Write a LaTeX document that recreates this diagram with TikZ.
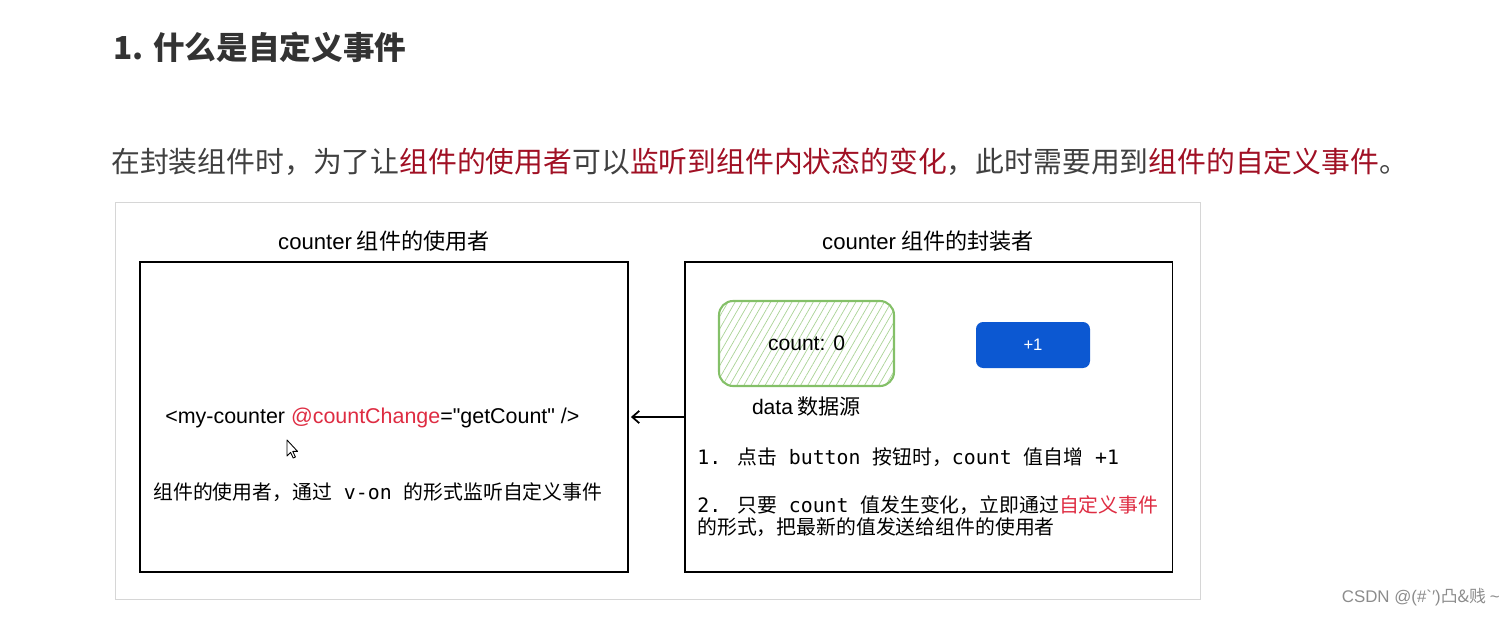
\documentclass[tikz,border=0pt]{standalone}
\usepackage{fontspec}
\setmainfont{Noto Sans CJK SC}
\newfontfamily\lat{Liberation Sans}
\newfontfamily\mono{DejaVu Sans Mono}
\usepackage{xcolor}
\definecolor{TitleGray}{RGB}{51,51,51}
\definecolor{TextGray}{RGB}{64,64,64}
\definecolor{DeepRed}{RGB}{160,16,36}
\definecolor{CodeRed}{RGB}{222,44,66}
\definecolor{FrameGray}{RGB}{214,214,214}
\definecolor{DataGreen}{RGB}{132,192,104}
\definecolor{ButtonBlue}{RGB}{12,88,210}
\definecolor{MarkGray}{RGB}{140,140,140}
\usetikzlibrary{positioning, arrows.meta, patterns.meta}

\begin{document}
\begin{tikzpicture}[x=0.02cm, y=-0.02cm,
    panel/.style={draw=black, line width=1.1pt, minimum width=9.76cm, minimum height=6.2cm},
    paneltitle/.style={font=\fontsize{12.6}{15}\selectfont, inner sep=0pt},
    body/.style={font=\fontsize{11.3}{13}\selectfont, inner sep=0pt, align=left},
    label/.style={font=\fontsize{12}{14}\selectfont, inner sep=0pt}]
    \useasboundingbox (0,0) rectangle (1510,616);
    % 标题 / Title
    \node[anchor=west, inner sep=0pt, text=TitleGray, font=\fontsize{18}{20}\selectfont\bfseries] (title) at (113,47) {1. 什么是自定义事件};
    \node[anchor=west, inner sep=0pt, text=TextGray, font=\fontsize{16.4}{18}\selectfont] (intro) at (111,162)
        {在封装组件时，为了让\textcolor{DeepRed}{组件的使用者}可以\textcolor{DeepRed}{监听到组件内状态的变化}，此时需要用到\textcolor{DeepRed}{组件的自定义事件}。};
    % 外框 / Frame
    \draw[FrameGray] (115,202) rectangle (1200,599);
    % 左右两个组件 / Panels
    \node[panel] (userbox) at (384,417) {};
    \node[panel] (encapbox) at (928.5,417) {};
    \node[paneltitle] (usertitle) at (384,241) {{\lat counter} 组件的使用者};
    \node[paneltitle] (encaptitle) at (928,241) {{\lat counter} 组件的封装者};
    % 数据与按钮 / Data and button
    \node[draw=DataGreen, line width=1.2pt, rounded corners=8pt, minimum width=3.5cm, minimum height=1.7cm,
        pattern={Lines[angle=60, distance=3.5pt, line width=0.4pt]}, pattern color=DataGreen!70] (databox) at (806.5,343.5) {};
    \node[label] at (databox) {\lat count: 0};
    \node[label, below=0.2cm of databox] (datalabel) {{\lat data} 数据源};
    \node[fill=ButtonBlue, rounded corners=4pt, minimum width=2.28cm, minimum height=0.92cm,
        text=white, font=\fontsize{9.5}{11}\selectfont\lat] (plusbtn) at (1033,345) {+1};
    % 说明文字 / Notes
    \node[body, anchor=west] (usage) at (165,418)
        {\fontsize{12.2}{14}\selectfont\lat <my-counter \textcolor{CodeRed}{@countChange}="getCount" />};
    \node[body, anchor=west] (usernote) at (153,492) {组件的使用者，通过{\mono\ v-on }的形式监听自定义事件};
    \node[body, anchor=west] (stepone) at (697,457) {{\mono 1. }点击{\mono\ button }按钮时，{\mono count }值自增{\mono\ +1}};
    \node[body, anchor=base west] (steptwo) at (697,534)
        {{\mono 2. }只要{\mono\ count }值发生变化，立即通过\textcolor{CodeRed}{自定义事件}\\[-0.6pt]的形式，把最新的值发送给组件的使用者};
    % 事件箭头 / Event arrow
    \draw[line width=1pt, -{Straight Barb[length=4pt, width=7pt]}, shorten >=0.04cm] (encapbox.west) -- (userbox.east);
    % 鼠标 / Cursor
    \draw[fill=white, line width=0.5pt, line join=round] (287,440) -- ++(0,16) -- ++(3.6,-3.6) -- ++(2.6,5.6)
        -- ++(2.2,-1) -- ++(-2.6,-5.6) -- ++(4.8,0) -- cycle;
    % 水印 / Watermark
    \node[anchor=east, inner sep=0pt, text=MarkGray, font=\fontsize{9.6}{11}\selectfont] (mark) at (1500,597)
        {{\lat CSDN @(\#`′)}凸\&贱 {\lat\textasciitilde}};
\end{tikzpicture}
\end{document}
